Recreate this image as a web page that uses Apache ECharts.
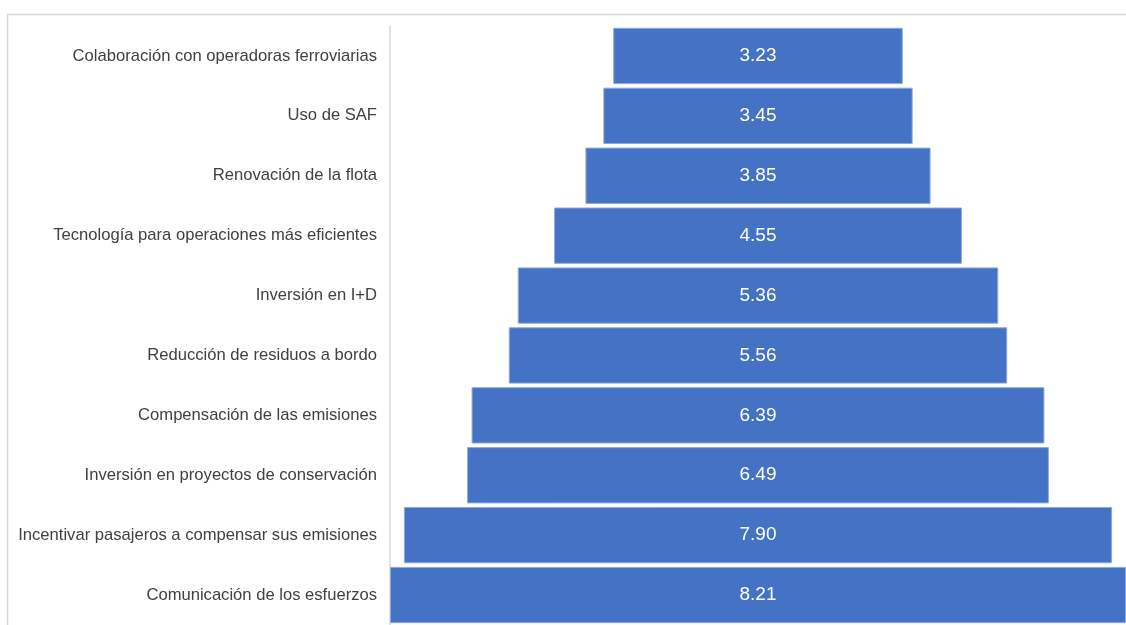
<!DOCTYPE html>
<html>
<head>
<meta charset="utf-8">
<style>
  html, body { margin: 0; padding: 0; background: #ffffff; }
  #chart { width: 1126px; height: 625px; }
</style>
<script src="https://cdn.jsdelivr.net/npm/echarts@6/dist/echarts.min.js"></script>
</head>
<body>
<div id="chart"></div>
<script>
// Measures, top to bottom
const categories = [
  'Colaboración con operadoras ferroviarias',
  'Uso de SAF',
  'Renovación de la flota',
  'Tecnología para operaciones más eficientes',
  'Inversión en I+D',
  'Reducción de residuos a bordo',
  'Compensación de las emisiones',
  'Inversión en proyectos de conservación',
  'Incentivar pasajeros a compensar sus emisiones',
  'Comunicación de los esfuerzos'
];
const scores = [3.23, 3.45, 3.85, 4.55, 5.36, 5.56, 6.39, 6.49, 7.90, 8.21];

// Bars are centred: a transparent spacer pushes each bar to the middle
const widest = Math.max(...scores);
const spacer = scores.map(v => (widest - v) / 2);

const chart = echarts.init(document.getElementById('chart'));
chart.setOption({
  animation: false,
  backgroundColor: '#ffffff',
  textStyle: { fontFamily: 'Liberation Sans, Arial, sans-serif' },
  graphic: [
    {
      type: 'polyline',
      shape: { points: [[7.5, 625], [7.5, 14.5], [1126, 14.5]] },
      style: { stroke: '#d9d9d9', lineWidth: 1.5, fill: null },
      silent: true
    }
  ],
  grid: { left: 390, right: -2, top: 26, bottom: -1, containLabel: false },
  xAxis: {
    type: 'value',
    min: 0,
    max: widest,
    show: false
  },
  yAxis: {
    type: 'category',
    data: categories,
    inverse: true,
    axisLine: { show: true, lineStyle: { color: '#d9d9d9', width: 1.5 } },
    axisTick: { show: false },
    axisLabel: {
      color: '#404040',
      fontSize: 16.6,
      margin: 13,
      fontFamily: 'Liberation Sans, Arial, sans-serif'
    }
  },
  series: [
    {
      type: 'bar',
      stack: 'funnel',
      data: spacer,
      itemStyle: { color: 'transparent' },
      silent: true,
      barCategoryGap: '6%'
    },
    {
      type: 'bar',
      stack: 'funnel',
      data: scores,
      barCategoryGap: '6%',
      itemStyle: {
        color: '#4472c4',
        borderColor: '#8ea9db',
        borderWidth: 1
      },
      label: {
        show: true,
        position: 'inside',
        color: '#ffffff',
        fontSize: 19,
        fontFamily: 'Liberation Sans, Arial, sans-serif',
        formatter: p => p.value.toFixed(2)
      }
    }
  ]
});
</script>
</body>
</html>
